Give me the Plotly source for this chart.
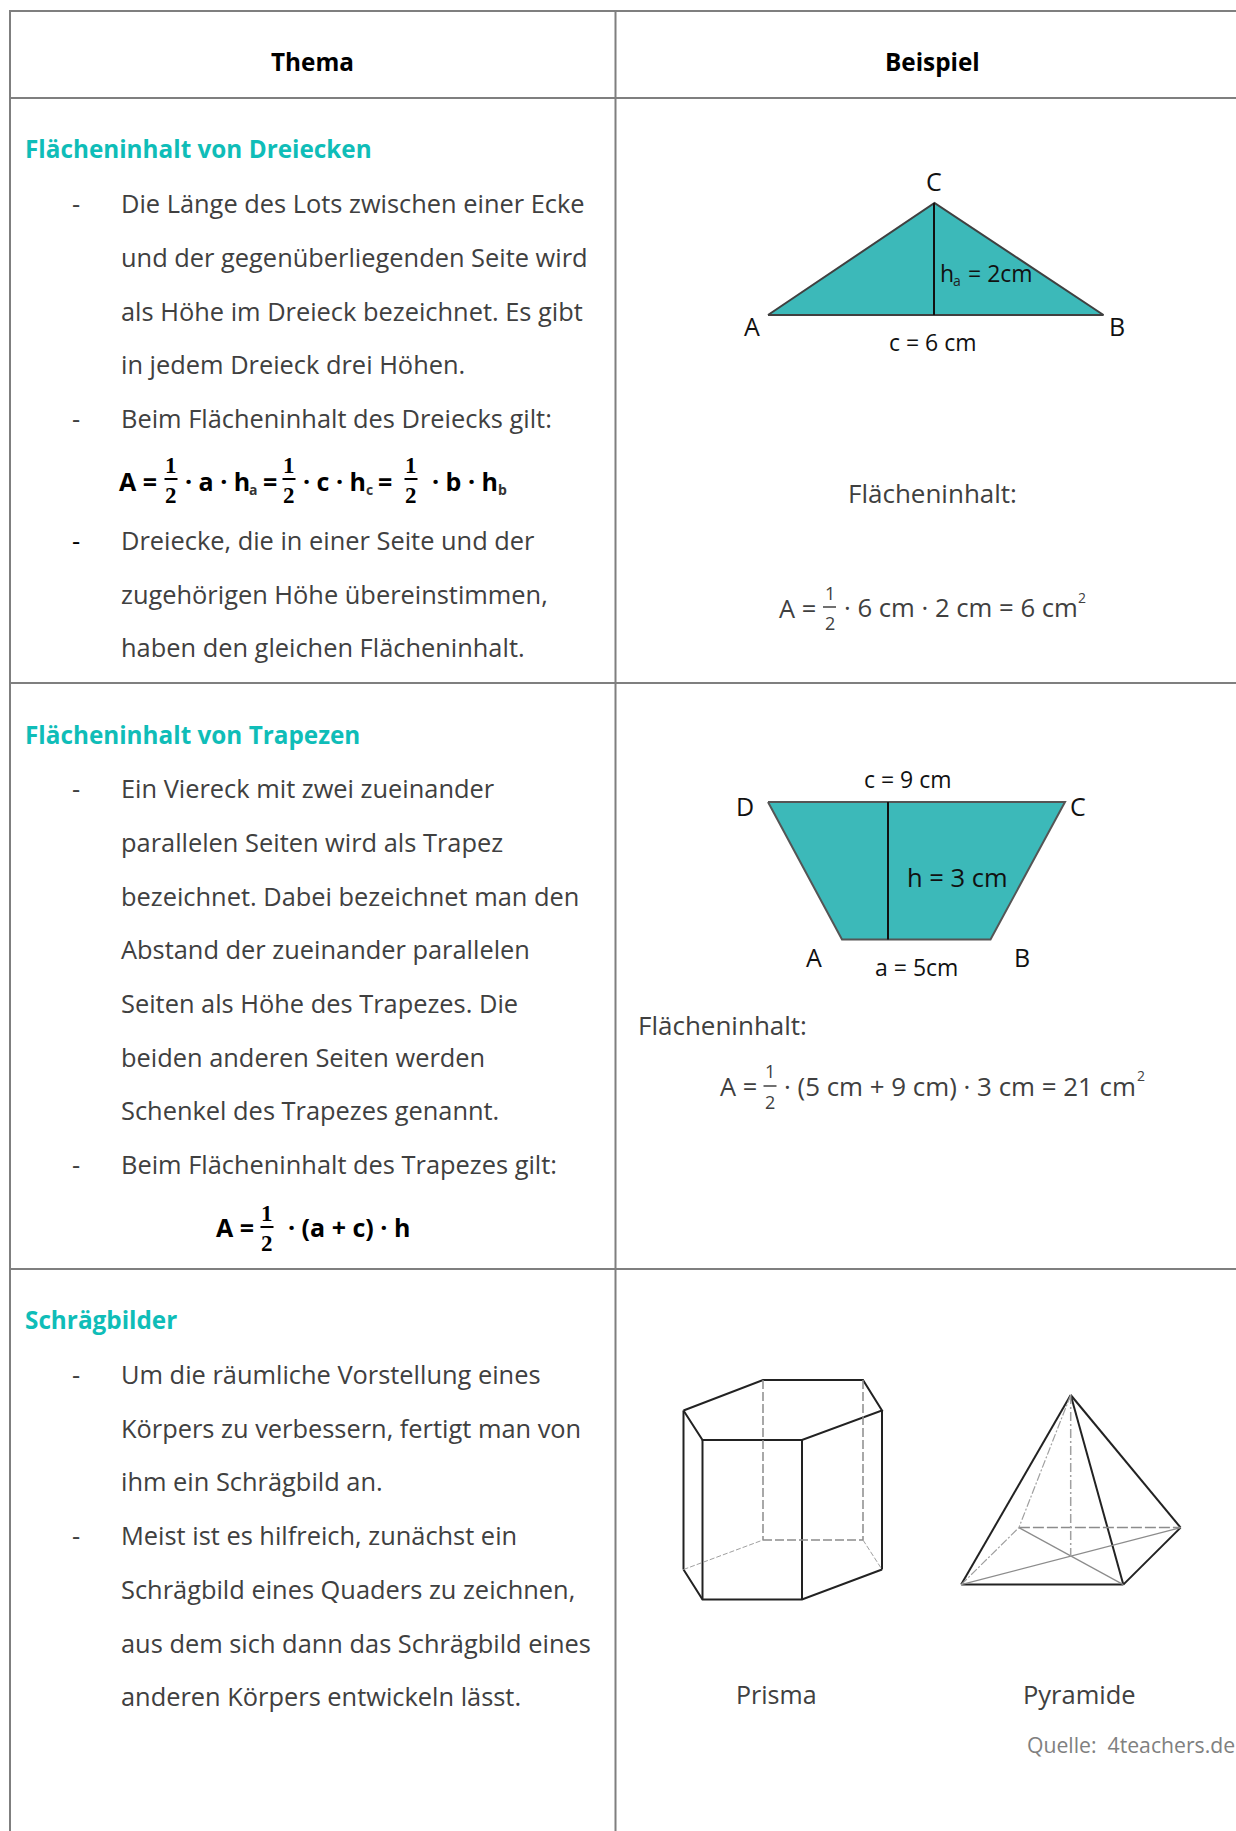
import plotly.graph_objects as go

W, H = 1236, 1831
FONT = "Open Sans"
TXT = "#404040"
TEAL = "#0FBDB8"
FILL = "#3CB9B9"
GRID = "#7F7F7F"
BODY = 25.4
HEAD = 24.3
DY = -0.5

# table rules
grid_x = [10, 615.5]
grid_y = [11, 98, 683, 1269]

# headers
header_labels = ["Thema", "Beispiel"]
header_x = [312, 932]
header_y = [62, 62]

# section headings
heading_labels = ["Flächeninhalt von Dreiecken", "Flächeninhalt von Trapezen", "Schrägbilder"]
heading_y = [148.5, 734.5, 1319.5]
heading_x = 24.5

# body text
body_lines = [
    "Die Länge des Lots zwischen einer Ecke", "und der gegenüberliegenden Seite wird",
    "als Höhe im Dreieck bezeichnet. Es gibt", "in jedem Dreieck drei Höhen.",
    "Beim Flächeninhalt des Dreiecks gilt:", "Dreiecke, die in einer Seite und der",
    "zugehörigen Höhe übereinstimmen,", "haben den gleichen Flächeninhalt.",
    "Ein Viereck mit zwei zueinander", "parallelen Seiten wird als Trapez",
    "bezeichnet. Dabei bezeichnet man den", "Abstand der zueinander parallelen",
    "Seiten als Höhe des Trapezes. Die", "beiden anderen Seiten werden",
    "Schenkel des Trapezes genannt.", "Beim Flächeninhalt des Trapezes gilt:",
    "Um die räumliche Vorstellung eines", "Körpers zu verbessern, fertigt man von",
    "ihm ein Schrägbild an.", "Meist ist es hilfreich, zunächst ein",
    "Schrägbild eines Quaders zu zeichnen,", "aus dem sich dann das Schrägbild eines",
    "anderen Körpers entwickeln lässt.",
]
body_y = [203, 257, 311, 364, 418, 540, 594, 647,
          788, 842, 896, 949, 1003, 1057, 1110, 1164,
          1374, 1428, 1481, 1535, 1589, 1643, 1696]
body_x = 120.5
dash_y = [203, 418, 788, 1164, 1374, 1535]
dash_y_dark = [540]
dash_x = 76

# triangle
tri_x = [768, 934.5, 1103.5, 768]
tri_y = [315, 203, 315, 315]
tri_h_x = [934, 934]
tri_h_y = [203, 315]

# trapezoid
trap_x = [768, 1065, 990.5, 842, 768]
trap_y = [802, 802, 939.5, 939.5, 802]
trap_h_x = [888, 888]
trap_h_y = [802, 939.5]

# diagram labels
fig_labels = ["C", "A", "B", "c = 6 cm", "c = 9 cm", "D", "C", "A", "B", "a = 5cm", "h = 3 cm"]
fig_label_x = [934, 752, 1117, 933, 907.5, 744.5, 1078, 814, 1022, 916.5, 957]
fig_label_y = [181, 326, 326, 342, 779, 806, 806, 957, 957, 967, 877]
fig_label_size = [25, 25, 25, 23, 23, 25, 25, 25, 25, 23, 25.5]

# prism corners
prism_top_x = [683.5, 763, 863, 882, 802, 702.5, 683.5]
prism_top_y = [1410.5, 1380, 1380, 1410.5, 1440, 1440, 1410.5]
prism_bot_x = [683.5, 702.5, 802, 882]
prism_bot_y = [1569.5, 1599.5, 1599.5, 1569.5]
prism_hidden_x = [683.5, 763, 863, 882]
prism_hidden_y = [1569.5, 1540, 1540, 1569.5]

# pyramid corners
pyr_apex = (1070.7, 1395)
pyr_fl = (961.2, 1584.6)
pyr_fr = (1123.3, 1584.6)
pyr_rb = (1180.6, 1527.6)
pyr_lb = (1018.9, 1527.6)
pyr_c = (1070.7, 1556.4)

fig = go.Figure()


def line(xs, ys, color="#222222", width=2, dash="solid", fill=None, fillcolor=None):
    fig.add_trace(go.Scatter(x=xs, y=ys, mode="lines", fill=fill, fillcolor=fillcolor,
                             line=dict(color=color, width=width, dash=dash),
                             hoverinfo="skip", showlegend=False))


def text(x, y, s, size=BODY, color=TXT, anchor="left", family=FONT, bold=False):
    if bold:
        s = "<b>" + s + "</b>"
    fig.add_annotation(x=x, y=y + DY, text=s, showarrow=False, xanchor=anchor, yanchor="middle",
                       xref="x", yref="y", align=anchor, borderpad=0, borderwidth=0,
                       font=dict(family=family, size=size, color=color))


def frac(x, y_bar, size, color, family, bold, half_w, gap_top, gap_bot, bw=1.5):
    line([x - half_w, x + half_w], [y_bar, y_bar], color=color, width=bw)
    text(x, y_bar - gap_top - DY, "1", size, color, "center", family, bold)
    text(x, y_bar + gap_bot - DY, "2", size, color, "center", family, bold)


# table rules
for gy in grid_y:
    line([grid_x[0] - 1, W], [gy, gy], color=GRID)
for gx in grid_x:
    line([gx, gx], [grid_y[0] - 1, H], color=GRID)

# shapes
line(tri_x, tri_y, color="#404040", width=2, fill="toself", fillcolor=FILL)
line(tri_h_x, tri_h_y, color="#111111", width=2)
line(trap_x, trap_y, color="#555555", width=2, fill="toself", fillcolor=FILL)
line(trap_h_x, trap_h_y, color="#111111", width=2)

# prism
HID = "#8C8C8C"
HID2 = "#A0A0A0"
line(prism_top_x, prism_top_y)
line(prism_bot_x, prism_bot_y)
for i, j in [(0, 0), (5, 1), (4, 2), (3, 3)]:
    line([prism_top_x[i], prism_bot_x[j]], [prism_top_y[i], prism_bot_y[j]])
for i in [1, 2]:
    line([prism_top_x[i], prism_hidden_x[i]], [prism_top_y[i], prism_hidden_y[i]],
         color=HID, width=1.5, dash="9px,3px")
line(prism_hidden_x[1:3], prism_hidden_y[1:3], color=HID, width=1.5, dash="9px,3px")
line(prism_hidden_x[:2], prism_hidden_y[:2], color=HID2, width=1, dash="5px,2px")
line(prism_hidden_x[2:], prism_hidden_y[2:], color=HID2, width=1, dash="5px,2px")

# pyramid
for a, b in [(pyr_apex, pyr_fl), (pyr_apex, pyr_fr), (pyr_apex, pyr_rb), (pyr_fl, pyr_fr), (pyr_fr, pyr_rb)]:
    line([a[0], b[0]], [a[1], b[1]])
for a, b in [(pyr_fl, pyr_rb), (pyr_lb, pyr_fr)]:
    line([a[0], b[0]], [a[1], b[1]], color="#8C8C8C", width=1.2)
line([pyr_lb[0], pyr_rb[0]], [pyr_lb[1], pyr_rb[1]], color=HID, width=1.5, dash="11px,3px")
line([pyr_apex[0], pyr_lb[0]], [pyr_apex[1], pyr_lb[1]], color=HID2, width=1.2, dash="8px,2px,2px,2px")
line([pyr_fl[0], pyr_lb[0]], [pyr_fl[1], pyr_lb[1]], color=HID2, width=1.2, dash="8px,2px,2px,2px")
line([pyr_apex[0], pyr_c[0]], [pyr_apex[1], pyr_c[1]], color=HID2, width=1.5, dash="9px,3px,2px,3px")

# text
for s, x, y in zip(header_labels, header_x, header_y):
    text(x, y, s, HEAD, "#000000", "center", bold=True)
for s, y in zip(heading_labels, heading_y):
    text(heading_x, y, s, HEAD, TEAL, bold=True)
for s, y in zip(body_lines, body_y):
    text(body_x, y, s, BODY)
for y in dash_y:
    text(dash_x, y, "-", BODY, "#404040", "center")
for y in dash_y_dark:
    text(dash_x, y, "-", BODY, "#000000", "center")
for s, x, y, z in zip(fig_labels, fig_label_x, fig_label_y, fig_label_size):
    text(x, y, s, z, "#111111", "center")
text(940, 273, "h", 23, "#111111")
text(957, 280.5, "a", 14, "#222222", "center")
text(968, 273, "= 2cm", 23, "#111111")
text(932, 493, "Flächeninhalt:", 26, TXT, "center")
text(638, 1025, "Flächeninhalt:", 26, TXT)
text(776.5, 1694.8, "Prisma", 25, TXT, "center")
text(1079, 1694.8, "Pyramide", 25.5, TXT, "center")
text(1027, 1745.3, "Quelle:  4teachers.de", 21.2, "#808080")

# formulas, left column
B = "#000000"
SERIF = "Liberation Serif"
SUB = "#333333"
text(119, 481, "A =", 25, B, bold=True)
frac(171, 479, 23, B, SERIF, True, 6.5, 14, 16, 2)
text(185, 481, "· a · h", 25, B, bold=True)
text(253, 490, "a", 14, SUB, "center", bold=True)
text(263, 481, "=", 25, B, bold=True)
frac(289, 479, 23, B, SERIF, True, 6.5, 14, 16, 2)
text(303, 481, "· c · h", 25, B, bold=True)
text(369, 490, "c", 14, SUB, "center", bold=True)
text(378, 481, "=", 25, B, bold=True)
frac(411, 479, 23, B, SERIF, True, 6.5, 14, 16, 2)
text(432, 481, "· b · h", 25, B, bold=True)
text(502, 490, "b", 14, SUB, "center", bold=True)

text(216, 1227, "A =", 25, B, bold=True)
frac(267, 1227, 23, B, SERIF, True, 6.5, 14, 16, 2)
text(288, 1227, "· (a + c) · h", 25, B, bold=True)

# formulas, right column
text(779, 608, "A =", BODY)
frac(829.5, 607, 18, TXT, FONT, False, 6.5, 14, 16)
text(843.5, 608, "· 6 cm · 2 cm = 6 cm", 25.7)
text(1082, 598, "2", 14, TXT, "center")
text(719.5, 1086, "A =", BODY)
frac(770, 1086, 18, TXT, FONT, False, 6.5, 15, 16)
text(784, 1086, "· (5 cm + 9 cm) · 3 cm = 21 cm", 25.9)
text(1141, 1076, "2", 14, TXT, "center")

fig.update_layout(
    width=W, height=H, margin=dict(l=0, r=0, t=0, b=0, pad=0),
    paper_bgcolor="white", plot_bgcolor="white", showlegend=False, hovermode=False,
    xaxis=dict(range=[0, W], visible=False, fixedrange=True),
    yaxis=dict(range=[H, 0], visible=False, fixedrange=True),
)
fig.write_html("out.html", post_script="document.body.style.margin='0';",
               config={"displayModeBar": False})
